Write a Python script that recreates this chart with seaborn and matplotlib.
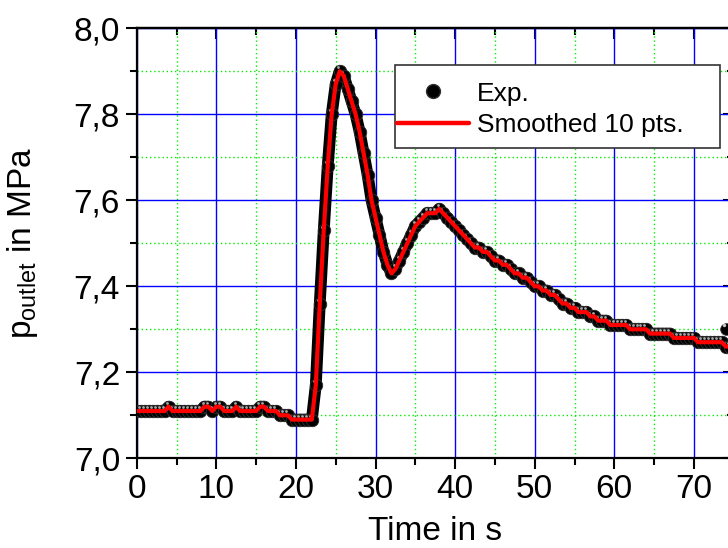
import matplotlib
matplotlib.use("Agg")
import matplotlib.pyplot as plt
import matplotlib.transforms as mtransforms
from matplotlib.lines import Line2D
from matplotlib.patches import Rectangle
import seaborn as sns
import pandas as pd

# ---------------- data ----------------
time_s = [
    0.0, 0.5, 1.0, 1.5, 2.0, 2.5, 3.0, 3.5, 4.0, 4.5,
    5.0, 5.5, 6.0, 6.5, 7.0, 7.5, 8.0, 8.5, 9.0, 9.5,
    10.0, 10.5, 11.0, 11.5, 12.0, 12.5, 13.0, 13.5, 14.0, 14.5,
    15.0, 15.5, 16.0, 16.5, 17.0, 17.5, 18.0, 18.5, 19.0, 19.5,
    20.0, 20.5, 21.0, 21.5, 22.0, 22.5, 23.0, 23.5, 24.0, 24.5,
    25.0, 25.5, 26.0, 26.5, 27.0, 27.5, 28.0, 28.5, 29.0, 29.5,
    30.0, 30.5, 31.0, 31.5, 32.0, 32.5, 33.0, 33.5, 34.0, 34.5,
    35.0, 35.5, 36.0, 36.5, 37.0, 37.5, 38.0, 38.5, 39.0, 39.5,
    40.0, 40.5, 41.0, 41.5, 42.0, 42.5, 43.0, 43.5, 44.0, 44.5,
    45.0, 45.5, 46.0, 46.5, 47.0, 47.5, 48.0, 48.5, 49.0, 49.5,
    50.0, 50.5, 51.0, 51.5, 52.0, 52.5, 53.0, 53.5, 54.0, 54.5,
    55.0, 55.5, 56.0, 56.5, 57.0, 57.5, 58.0, 58.5, 59.0, 59.5,
    60.0, 60.5, 61.0, 61.5, 62.0, 62.5, 63.0, 63.5, 64.0, 64.5,
    65.0, 65.5, 66.0, 66.5, 67.0, 67.5, 68.0, 68.5, 69.0, 69.5,
    70.0, 70.5, 71.0, 71.5, 72.0, 72.5, 73.0, 73.5, 74.0, 74.5,
    75.0,
]
p_exp = [
    7.11, 7.11, 7.11, 7.11, 7.11, 7.11, 7.11, 7.11, 7.12, 7.11,
    7.11, 7.11, 7.11, 7.11, 7.11, 7.11, 7.11, 7.12, 7.12, 7.11,
    7.12, 7.12, 7.11, 7.11, 7.11, 7.12, 7.11, 7.11, 7.11, 7.11,
    7.11, 7.12, 7.12, 7.11, 7.11, 7.11, 7.10, 7.10, 7.10, 7.09,
    7.09, 7.09, 7.09, 7.09, 7.09, 7.17, 7.36, 7.53, 7.68, 7.80,
    7.87, 7.90, 7.89, 7.86, 7.83, 7.80, 7.76, 7.71, 7.66, 7.60,
    7.56, 7.52, 7.48, 7.45, 7.43, 7.44, 7.46, 7.48, 7.50, 7.52,
    7.54, 7.55, 7.56, 7.57, 7.57, 7.57, 7.58, 7.57, 7.56, 7.55,
    7.54, 7.53, 7.52, 7.51, 7.50, 7.49, 7.49, 7.48, 7.48, 7.47,
    7.46, 7.46, 7.45, 7.45, 7.44, 7.43, 7.43, 7.42, 7.42, 7.41,
    7.40, 7.40, 7.39, 7.39, 7.38, 7.38, 7.37, 7.36, 7.36, 7.35,
    7.35, 7.34, 7.34, 7.34, 7.33, 7.33, 7.32, 7.32, 7.32, 7.31,
    7.31, 7.31, 7.31, 7.31, 7.30, 7.30, 7.30, 7.30, 7.30, 7.29,
    7.29, 7.29, 7.29, 7.29, 7.29, 7.28, 7.28, 7.28, 7.28, 7.28,
    7.28, 7.27, 7.27, 7.27, 7.27, 7.27, 7.27, 7.27, 7.26, 7.26,
    7.26,
]
# single stray measurement point near the right edge
extra_time_s = [74.0]
extra_p = [7.30]

x_ticks = [0, 10, 20, 30, 40, 50, 60, 70]
x_tick_labels = ["0", "10", "20", "30", "40", "50", "60", "70"]
x_minor = [5, 15, 25, 35, 45, 55, 65]
y_ticks = [7.0, 7.2, 7.4, 7.6, 7.8, 8.0]
y_tick_labels = ["7,0", "7,2", "7,4", "7,6", "7,8", "8,0"]
y_minor = [7.1, 7.3, 7.5, 7.7, 7.9]

exp_df = pd.DataFrame({"t": time_s, "p": p_exp})
extra_df = pd.DataFrame({"t": extra_time_s, "p": extra_p})

# ---------------- style ----------------
sns.set_theme(style="white")
plt.rcParams["font.family"] = ["Liberation Sans", "DejaVu Sans"]
plt.rcParams["mathtext.fontset"] = "custom"
plt.rcParams["mathtext.rm"] = "Liberation Sans"
plt.rcParams["mathtext.it"] = "Liberation Sans:italic"
for k in ["text.color", "axes.labelcolor", "xtick.color", "ytick.color",
          "axes.edgecolor"]:
    plt.rcParams[k] = "black"

W, H = 728, 548
fig = plt.figure(figsize=(W / 100, H / 100), dpi=100)
x0, x1 = 136.7, 733.7
y0, y1 = 28.3, 458.3
ax = fig.add_axes([x0 / W, 1 - y1 / H, (x1 - x0) / W, (y1 - y0) / H])

# experimental points: black "spheres" forming a chain
sns.lineplot(data=exp_df, x="t", y="p", ax=ax, color="black", lw=8.5,
             marker="o", markersize=9, markeredgecolor="#303030",
             markeredgewidth=0.6, estimator=None, sort=False,
             solid_capstyle="round", solid_joinstyle="round", zorder=3)
sns.scatterplot(data=extra_df, x="t", y="p", ax=ax, color="black", s=70,
                edgecolor="#303030", linewidth=0.6, zorder=3, clip_on=False)

# small highlights on the spheres
hl = ax.transData + mtransforms.ScaledTranslation(-1.2 / 72, 2.8 / 72,
                                                   fig.dpi_scale_trans)
sns.scatterplot(data=exp_df, x="t", y="p", ax=ax, color="#a8a8a8", s=4,
                linewidth=0, transform=hl, zorder=4)
sns.scatterplot(data=extra_df, x="t", y="p", ax=ax, color="#c8c8c8", s=6,
                linewidth=0, transform=hl, zorder=4, clip_on=False)

# smoothed curve
sns.lineplot(data=exp_df, x="t", y="p", ax=ax, color="#ff0000", lw=3.0,
             estimator=None, sort=False, zorder=5)

# ---------------- axes ----------------
ax.set_xlim(0, 75)
ax.set_ylim(7.0, 8.0)
ax.set_xticks(x_ticks)
ax.set_xticklabels(x_tick_labels)
ax.set_xticks(x_minor, minor=True)
ax.set_yticks(y_ticks)
ax.set_yticklabels(y_tick_labels)
ax.set_yticks(y_minor, minor=True)

ax.set_axisbelow(True)
ax.grid(which="major", color="#0000ff", lw=1.0, ls="-")
ax.grid(which="minor", color="#00ee00", lw=1.0, ls=(0, (1, 2)))

for s in ax.spines.values():
    s.set_visible(True)
    s.set_color("black")
    s.set_linewidth(1.6)

ax.tick_params(axis="both", which="both", bottom=True, left=True,
               top=False, right=False)
ax.tick_params(axis="both", which="major", direction="out", length=8,
               width=1.5, color="black", labelsize=24, labelcolor="black",
               pad=4)
ax.tick_params(axis="both", which="minor", direction="out", length=5,
               width=1.5, color="black")
ax.tick_params(axis="x", which="major", pad=3)

# inward ticks on top and right
secx = ax.secondary_xaxis("top")
secx.set_xticks(x_ticks)
secx.set_xticks(x_minor, minor=True)
secx.tick_params(which="both", top=True, labeltop=False)
secx.tick_params(which="major", direction="in", length=8, width=1.5,
                 color="black")
secx.tick_params(which="minor", direction="in", length=5, width=1.5,
                 color="black")
secx.spines["top"].set_linewidth(1.6)
secy = ax.secondary_yaxis("right")
secy.set_yticks(y_ticks)
secy.set_yticks(y_minor, minor=True)
secy.tick_params(which="both", right=True, labelright=False)
secy.tick_params(which="major", direction="in", length=8, width=1.5,
                 color="black")
secy.tick_params(which="minor", direction="in", length=5, width=1.5,
                 color="black")

ax.set_xlabel("Time in s", fontsize=24, labelpad=8)
ax.set_ylabel(r"p$_{\mathrm{outlet}}$ in MPa", fontsize=24, labelpad=24)

# ---------------- legend ----------------
frame_box = Rectangle((0.4327, 0.7209), 0.5444, 0.1938,
                      transform=ax.transAxes, facecolor="white",
                      edgecolor="#333333", lw=1.2, zorder=9)
ax.add_patch(frame_box)

handles = [
    Line2D([], [], ls="none", marker="o", color="black",
           markeredgecolor="#303030", markersize=10),
    Line2D([], [], color="#ff0000", lw=3.2),
]
labels = ["Exp.", "Smoothed 10 pts."]
leg = ax.legend(handles, labels, loc="upper left",
                bbox_to_anchor=(0.411, 0.910),
                borderaxespad=0, fontsize=19, handlelength=2.76,
                handletextpad=0.3, labelspacing=0.28, borderpad=0.55,
                frameon=False)
leg.set_zorder(10)

fig.savefig("out.png", dpi=100)
